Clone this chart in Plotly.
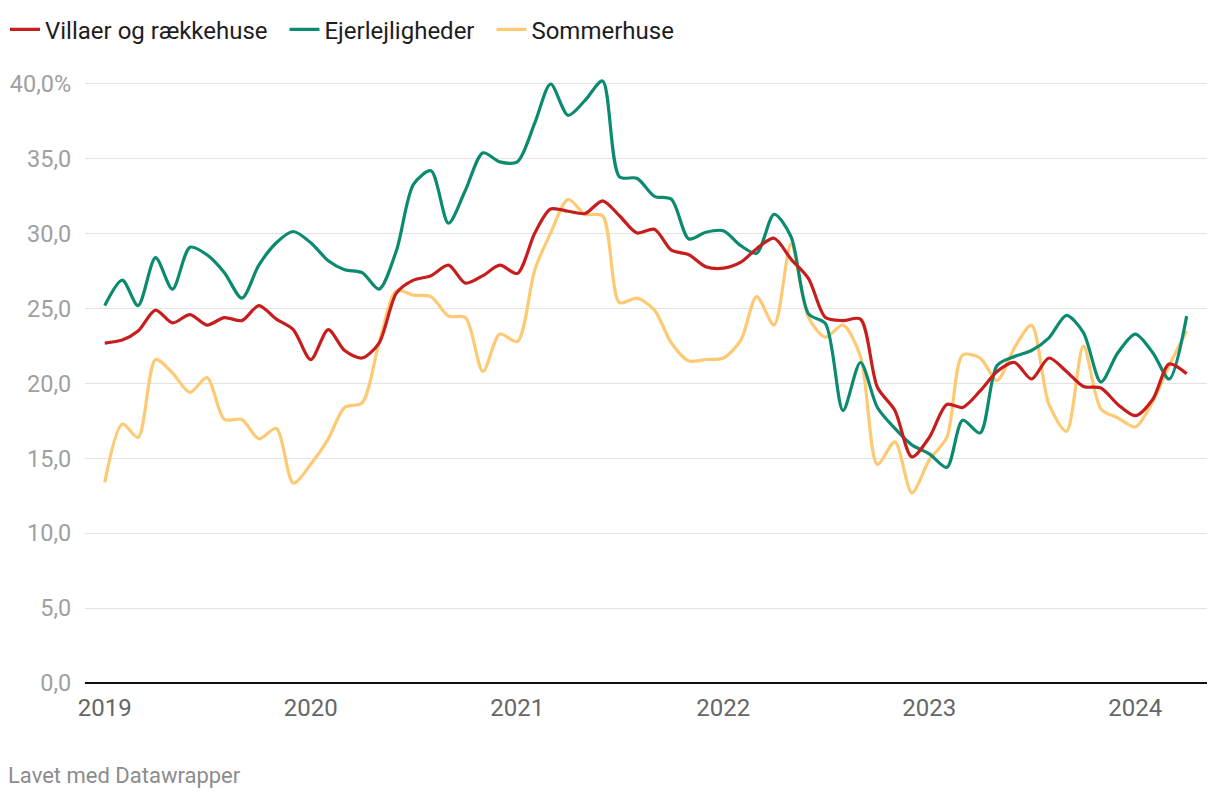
import plotly.graph_objects as go
import pandas as pd

months = pd.date_range("2019-01-01", "2024-04-01", freq="MS")

villaer = [
    22.7, 22.9, 23.5, 24.9, 24.05, 24.6, 23.9, 24.4, 24.2, 25.2, 24.3, 23.6,
    21.6, 23.6, 22.2, 21.7, 22.7, 26.05, 26.9, 27.2, 27.9, 26.7, 27.2, 27.9,
    27.35, 30.05, 31.65, 31.5, 31.35, 32.2, 31.2, 30.05, 30.3, 28.9, 28.6, 27.8,
    27.7, 28.1, 29.0, 29.7, 28.3, 27.0, 24.4, 24.2, 24.3, 19.75, 18.2, 15.1,
    16.4, 18.6, 18.4, 19.5, 20.8, 21.4, 20.3, 21.7, 20.8, 19.8, 19.7, 18.6,
    17.85, 18.95, 21.3, 20.65,
]

ejerlejligheder = [
    25.2, 26.9, 25.2, 28.4, 26.3, 29.1, 28.6, 27.4, 25.7, 27.9, 29.4, 30.15,
    29.4, 28.2, 27.6, 27.4, 26.3, 28.9, 33.3, 34.2, 30.7, 32.9, 35.4, 34.8,
    34.8, 37.4, 40.0, 37.9, 38.9, 40.2, 33.8, 33.7, 32.5, 32.3, 29.65, 30.1,
    30.2, 29.2, 28.7, 31.3, 29.8, 24.65, 24.0, 18.2, 21.4, 18.4, 17.0, 15.9,
    15.3, 14.4, 17.55, 16.7, 21.2, 21.8, 22.2, 23.05, 24.55, 23.4, 20.1, 22.05,
    23.3, 22.05, 20.3, 24.5,
]

sommerhuse = [
    13.4, 17.3, 16.4, 21.6, 20.7, 19.4, 20.4, 17.6, 17.6, 16.3, 17.0, 13.35,
    14.6, 16.3, 18.4, 18.7, 22.7, 26.2, 25.9, 25.8, 24.5, 24.4, 20.8, 23.3,
    22.8, 27.6, 30.05, 32.3, 31.3, 31.2, 25.4, 25.7, 24.9, 22.7, 21.5, 21.6,
    21.7, 22.9, 25.8, 23.9, 29.3, 24.4, 23.1, 23.9, 21.8, 14.6, 16.1, 12.7,
    14.9, 16.4, 21.9, 21.7, 20.2, 22.4, 23.9, 18.6, 16.8, 22.5, 18.3, 17.7,
    17.1, 18.8, 21.2, 23.5,
]

series_names = ["Villaer og rækkehuse", "Ejerlejligheder", "Sommerhuse"]
series_colors = ["#c71e1d", "#0a8a6f", "#fec973"]
legend_pad = ["\u00a0\u00a0", "\u00a0\u00a0", ""]

y_tickvals = [0, 5, 10, 15, 20, 25, 30, 35, 40]
y_ticktext = ["0,0", "5,0", "10,0", "15,0", "20,0", "25,0", "30,0", "35,0", "40,0%"]
x_tickvals = ["2019-01-01", "2020-01-01", "2021-01-01", "2022-01-01", "2023-01-01", "2024-01-01"]
x_ticktext = ["2019", "2020", "2021", "2022", "2023", "2024"]

fig = go.Figure()
for name, vals, col, pad in zip(series_names, [villaer, ejerlejligheder, sommerhuse], series_colors, legend_pad):
    fig.add_trace(go.Scatter(
        x=months, y=vals, name=name + pad, mode="lines",
        line=dict(color=col, width=3.2, shape="spline", smoothing=0.8),
        hoverinfo="skip",
    ))

# draw order: yellow under green under red
fig.data = (fig.data[2], fig.data[1], fig.data[0])

fig.update_layout(
    width=1220, height=800,
    margin=dict(l=85, r=13, t=69, b=117, autoexpand=False),
    paper_bgcolor="white", plot_bgcolor="white",
    font=dict(family="Roboto", size=24, color="#999999"),
    showlegend=True,
    legend=dict(
        orientation="h", xref="container", x=0.0041, xanchor="left",
        yref="container", y=0.991, yanchor="top",
        font=dict(family="Roboto", size=24, color="#1d1d1d"),
        traceorder="reversed", itemwidth=30, tracegroupgap=0,
        bgcolor="rgba(0,0,0,0)",
    ),
    xaxis=dict(
        type="date",
        range=["2018-11-27", "2024-05-07"],
        tickvals=x_tickvals, ticktext=x_ticktext,
        showgrid=False, zeroline=False,
        showline=False, automargin=False,
        ticks="outside", ticklen=3, tickcolor="rgba(0,0,0,0)",
        tickfont=dict(family="Roboto", size=24, color="#666666"),
    ),
    yaxis=dict(
        range=[0, 41],
        tickvals=y_tickvals, ticktext=y_ticktext,
        showgrid=True, gridcolor="#e3e3e3", gridwidth=1,
        zeroline=True, zerolinecolor="#111111", zerolinewidth=2,
        showline=False, automargin=False,
        ticks="outside", ticklen=8, tickcolor="rgba(0,0,0,0)",
        tickfont=dict(family="Roboto", size=23.5, color="#a0a0a0"),
    ),
)

fig.add_annotation(
    text="Lavet med Datawrapper", xref="paper", yref="paper",
    x=-0.0704, y=-0.150, xanchor="left", yanchor="middle", showarrow=False,
    font=dict(family="Roboto", size=22, color="#8c8c8c"),
)

fig.write_html(
    "out.html",
    config={"displayModeBar": False},
    post_script="document.body.style.margin='0';",
)
